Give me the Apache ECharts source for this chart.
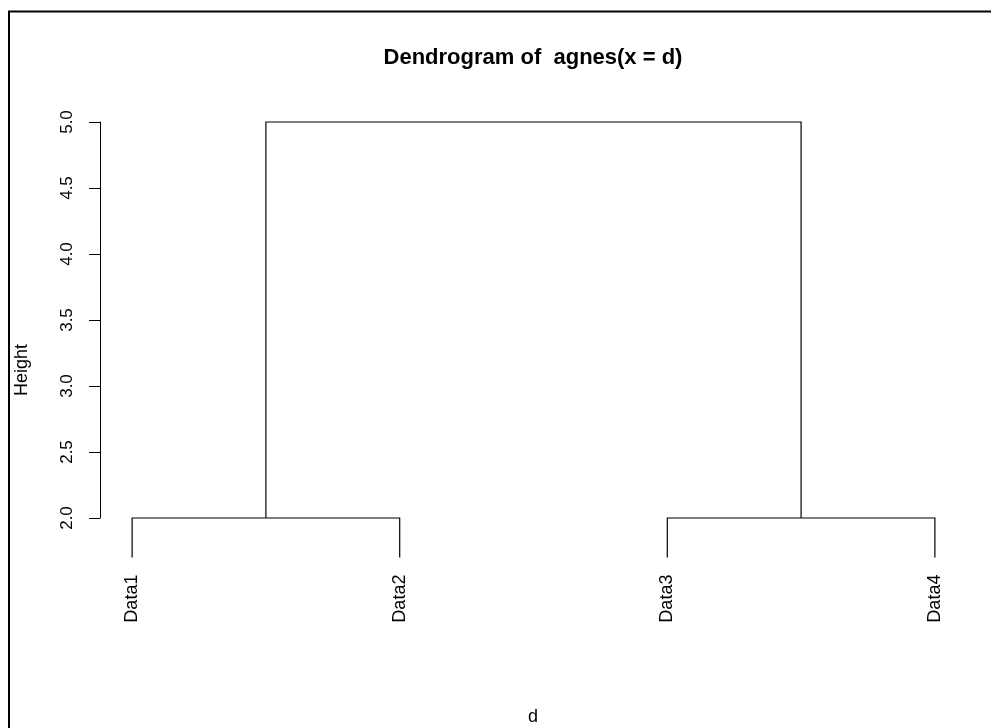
<!DOCTYPE html>
<html>
<head>
<meta charset="utf-8">
<script src="https://cdn.jsdelivr.net/npm/echarts@6/dist/echarts.min.js"></script>
<style>
  html, body { margin: 0; padding: 0; background: #fff; }
  #chart { width: 991px; height: 728px; }
</style>
</head>
<body>
<div id="chart"></div>
<script>
// Leaf names in dendrogram order
const leafLabels = ['Data1', 'Data2', 'Data3', 'Data4'];
// Merge table (R hclust style): negative = leaf index, positive = earlier merge
const mergePairs = [[-1, -2], [-3, -4], [1, 2]];
// Height at which each merge happens
const mergeHeights = [2.0, 2.0, 5.0];
// Y axis tick values
const yTicks = [2.0, 2.5, 3.0, 3.5, 4.0, 4.5, 5.0];
// Fraction of the height range that leaves hang below their merge
const hang = 0.1;

const FONT = '"Liberation Sans", Arial, sans-serif';

// Resolve node positions: leaves sit at 1..n, merges at the midpoint of their children
const hRange = Math.max(...mergeHeights) - Math.min(...mergeHeights);
const leafPos = {};
leafLabels.forEach((_, i) => { leafPos[i + 1] = i + 1; });
const mergeX = [];
const segments = [];   // [xLeft, yLeftBottom, xRight, yRightBottom, height]
const leafTips = [];   // [x, yBottom, name]
mergePairs.forEach((pair, k) => {
  const h = mergeHeights[k];
  const ends = pair.map(c => {
    if (c < 0) {
      const x = leafPos[-c];
      const yb = h - hang * hRange;
      leafTips.push([x, yb, leafLabels[-c - 1]]);
      return [x, yb];
    }
    return [mergeX[c - 1], mergeHeights[c - 1]];
  });
  mergeX.push((ends[0][0] + ends[1][0]) / 2);
  segments.push([ends[0][0], ends[0][1], ends[1][0], ends[1][1], h]);
});

const chart = echarts.init(document.getElementById('chart'), null, { renderer: 'canvas' });

chart.setOption({
  backgroundColor: '#ffffff',
  animation: false,
  grid: { left: 100, right: 24, top: 122, bottom: 210, containLabel: false },
  xAxis: {
    type: 'value', min: 0.88, max: leafLabels.length + 0.12, show: false
  },
  yAxis: {
    type: 'value', min: yTicks[0], max: yTicks[yTicks.length - 1], interval: 0.5,
    axisLine: { show: true, lineStyle: { color: '#000', width: 1 } },
    axisTick: { show: true, length: 11, lineStyle: { color: '#000', width: 1 } },
    splitLine: { show: false },
    axisLabel: {
      rotate: 90, margin: 24, color: '#000', fontSize: 17, fontFamily: FONT,
      formatter: v => v.toFixed(1)
    }
  },
  graphic: [
    { type: 'rect', silent: true, z: 100,
      shape: { x: 9, y: 11.5, width: 1200, height: 1000 },
      style: { fill: 'none', stroke: '#000', lineWidth: 2 } },
    { type: 'text', x: 533, y: 58, z: 100,
      style: { text: 'Dendrogram of  agnes(x = d)', font: 'bold 22px ' + FONT,
               fill: '#000', align: 'center', verticalAlign: 'middle' } },
    { type: 'text', x: 22, y: 370, rotation: Math.PI / 2, z: 100,
      style: { text: 'Height', font: '18px ' + FONT, fill: '#000',
               align: 'center', verticalAlign: 'middle' } },
    { type: 'text', x: 533, y: 717, z: 100,
      style: { text: 'd', font: '18px ' + FONT, fill: '#000',
               align: 'center', verticalAlign: 'middle' } }
  ],
  series: [
    {
      type: 'custom',
      clip: false,
      data: segments,
      renderItem: (params, api) => {
        const a = api.coord([api.value(0), api.value(1)]);
        const b = api.coord([api.value(0), api.value(4)]);
        const c = api.coord([api.value(2), api.value(4)]);
        const d = api.coord([api.value(2), api.value(3)]);
        return {
          type: 'polyline',
          shape: { points: [a, b, c, d] },
          style: { stroke: '#000', lineWidth: 1.2, fill: 'none' }
        };
      }
    },
    {
      type: 'custom',
      clip: false,
      data: leafTips,
      renderItem: (params, api) => {
        const p = api.coord([api.value(0), api.value(1)]);
        return {
          type: 'text',
          x: p[0], y: p[1] + 17, rotation: Math.PI / 2,
          style: { text: leafTips[params.dataIndex][2], font: '18px ' + FONT,
                   fill: '#000', align: 'right', verticalAlign: 'middle' }
        };
      }
    }
  ]
});
</script>
</body>
</html>
